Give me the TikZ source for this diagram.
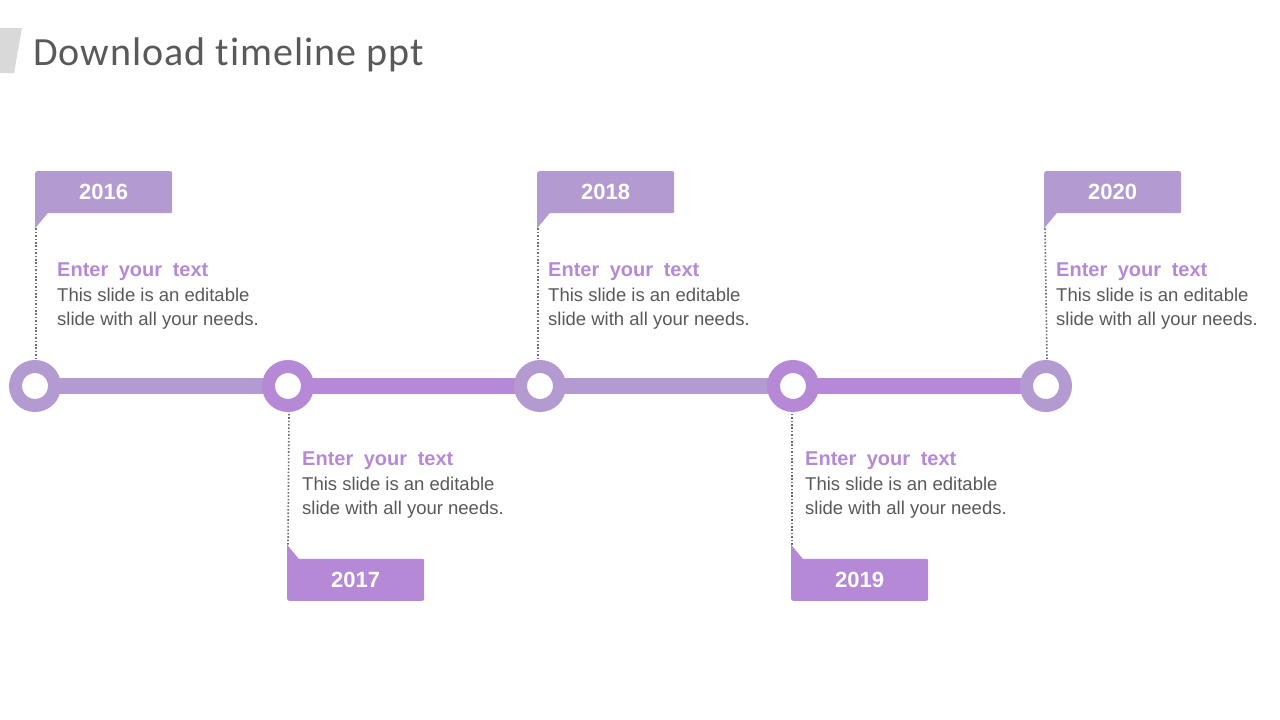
\documentclass[tikz,border=0pt]{standalone}
\usepackage{fontspec}
\setmainfont{Liberation Sans}
\newfontfamily\titlefont[LetterSpace=2.5,Ligatures=NoCommon]{Carlito}
\newfontfamily\headfont[WordSpace=1.9]{Liberation Sans}
\pgfdeclarelayer{back}
\pgfdeclarelayer{bars}
\pgfsetlayers{back,bars,main}
\definecolor{lav}{HTML}{B39BD2}
\definecolor{pur}{HTML}{B689D6}
\definecolor{txt}{HTML}{595959}
\definecolor{dotc}{HTML}{6F6F6F}
\definecolor{band}{HTML}{D9D9D9}
\tikzset{
  ring/.style={circle, draw=#1, line width=13pt, fill=white, minimum size=39pt, inner sep=0pt},
  bar/.style={line width=16pt, draw=#1},
  flag/.style={rectangle, rounded corners=2pt, fill=#1, minimum width=137pt, minimum height=42pt, inner sep=0pt,
    text=white, font=\fontsize{22}{26}\selectfont\bfseries},
  tail/.style={fill=#1},
  dots/.style={draw=dotc, line width=1.6pt, dash pattern=on 1.6pt off 1.8pt},
  head/.style={anchor=base west, inner sep=0pt, text=pur, font=\headfont\fontsize{20}{23}\selectfont\bfseries},
  body/.style={anchor=base west, inner sep=0pt, align=left, text=txt, font=\fontsize{18.5}{23.5}\selectfont},
}
\begin{document}
\begin{tikzpicture}[x=1pt,y=-1pt]
\begin{pgfonlayer}{back}
\fill[white] (0,0) rectangle (1280,720);
\end{pgfonlayer}
\useasboundingbox (0,0) rectangle (1280,720);
% title
\fill[band] (0,28) -- (22,28) -- (14,73) -- (0,73) -- cycle;
\node[anchor=base west, inner sep=0pt, text=txt, font=\titlefont\fontsize{40}{44}\selectfont] (title) at (33,65) {Download timeline ppt};
% circles
\node[ring=lav] (c1) at (35,386) {};
\node[ring=pur] (c2) at (288,386) {};
\node[ring=lav] (c3) at (540,386) {};
\node[ring=pur] (c4) at (793,386) {};
\node[ring=lav] (c5) at (1046,386) {};
% top flags
\node[flag=lav, anchor=north west] (f1) at (35,171) {\raisebox{-3pt}{2016}};
\node[flag=lav, anchor=north west] (f3) at (537,171) {\raisebox{-3pt}{2018}};
\node[flag=lav, anchor=north west] (f5) at (1044,171) {\raisebox{-3pt}{2020}};
% bottom flags
\node[flag=pur, anchor=south west] (f2) at (287,601) {\raisebox{-3pt}{2017}};
\node[flag=pur, anchor=south west] (f4) at (791,601) {\raisebox{-3pt}{2019}};
% tails
\fill[tail=lav] ([yshift=3pt]f1.south west) -- ++(0,18) coordinate (t1) -- ++(15,-18) -- cycle;
\fill[tail=lav] ([yshift=3pt]f3.south west) -- ++(0,18) coordinate (t3) -- ++(15,-18) -- cycle;
\fill[tail=lav] ([yshift=3pt]f5.south west) -- ++(0,18) coordinate (t5) -- ++(15,-18) -- cycle;
\fill[tail=pur] ([yshift=-3pt]f2.north west) -- ++(0,-17) coordinate (t2) -- ++(14,17) -- cycle;
\fill[tail=pur] ([yshift=-3pt]f4.north west) -- ++(0,-17) coordinate (t4) -- ++(14,17) -- cycle;
\begin{pgfonlayer}{bars}
\draw[bar=lav] (c1.center) -- (c2.center);
\draw[bar=pur] (c2.center) -- (c3.center);
\draw[bar=lav] (c3.center) -- (c4.center);
\draw[bar=pur] (c4.center) -- (c5.center);
\draw[dots] ([xshift=1pt]t1) -- ([xshift=1pt]c1.north);
\draw[dots] ([xshift=1pt]t3) -- ([xshift=1pt]t3 |- c3.north);
\draw[dots] ([xshift=1pt]t5) -- ([xshift=1pt]c5.north);
\draw[dots] ([xshift=1pt]t2) -- ([xshift=1pt]c2.south);
\draw[dots] ([xshift=1pt]t4) -- ([xshift=1pt]t4 |- c4.south);
\end{pgfonlayer}
% texts top
\node[head] (h1) at (57,276) {Enter your text};
\node[body] (b1) at (57,325) {This slide is an editable\\slide with all your needs.};
\node[head] (h3) at (548,276) {Enter your text};
\node[body] (b3) at (548,325) {This slide is an editable\\slide with all your needs.};
\node[head] (h5) at (1056,276) {Enter your text};
\node[body] (b5) at (1056,325) {This slide is an editable\\slide with all your needs.};
% texts bottom
\node[head] (h2) at (302,465) {Enter your text};
\node[body] (b2) at (302,514) {This slide is an editable\\slide with all your needs.};
\node[head] (h4) at (805,465) {Enter your text};
\node[body] (b4) at (805,514) {This slide is an editable\\slide with all your needs.};
\end{tikzpicture}
\end{document}
